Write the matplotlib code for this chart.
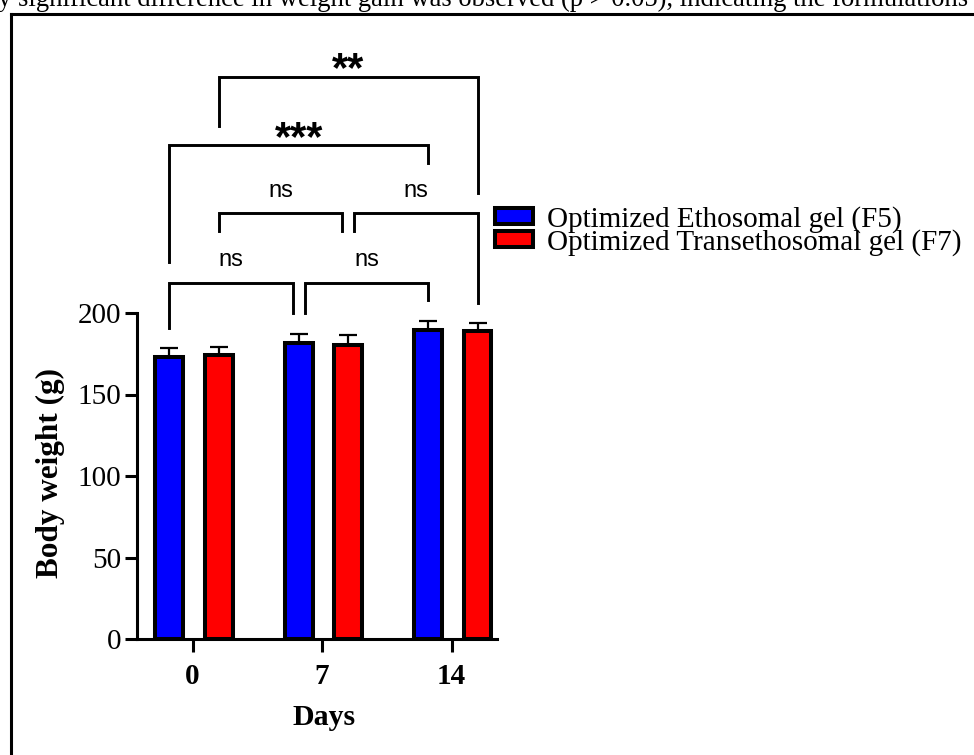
import numpy as np
import matplotlib
matplotlib.use("Agg")
import matplotlib.pyplot as plt
from matplotlib.lines import Line2D

# values
days = ["0", "7", "14"]
etho_mean = [173.0, 181.5, 189.5]
etho_sd = [5.5, 5.5, 5.3]
trans_mean = [174.0, 180.5, 189.0]
trans_sd = [5.0, 6.0, 5.0]
series_names = ["Optimized Ethosomal gel (F5)", "Optimized Transethosomal gel (F7)"]

# comparisons: (series, day a, day b, label)
comparisons = [
    (0, 0, 1, "ns"),
    (0, 1, 2, "ns"),
    (1, 0, 1, "ns"),
    (1, 1, 2, "ns"),
    (0, 0, 2, "***"),
    (1, 0, 2, "**"),
]
# bracket layout (top, left leg end, right leg end) in data units
bracket_levels = [
    (218.6, 190.8, 200.0),
    (218.6, 200.0, 208.0),
    (261.3, 250.0, 250.0),
    (261.3, 250.0, 206.0),
    (303.0, 231.5, 292.0),
    (345.0, 315.0, 273.6),
]

caption = "y significant difference in weight gain was observed (p > 0.05), indicating the formulations"

serif = "Liberation Serif"
sans = "Liberation Sans"

W, H = 974, 755
fig = plt.figure(figsize=(W / 100, H / 100), dpi=100)
ax = fig.add_axes([137 / W, 116 / H, 360 / W, 326 / H])

x = np.arange(len(days))
offs = [-0.18, 0.20]
bw = 0.215
colors = ["#0000ff", "#ff0000"]
means = [etho_mean, trans_mean]
sds = [etho_sd, trans_sd]

handles = []
for i in range(2):
    b = ax.bar(x + offs[i], means[i], bw, color=colors[i], edgecolor="black",
               linewidth=2.9, zorder=3, label=series_names[i])
    ax.errorbar(x + offs[i], means[i], yerr=[np.zeros(3), sds[i]], fmt="none",
                ecolor="black", elinewidth=1.6, capsize=6.5, capthick=1.6, zorder=2)
    handles.append(b)

# significance brackets
ends_used = {}
for (s, a, b, lab) in comparisons:
    ends_used.setdefault((s, a), []).append("L")
    ends_used.setdefault((s, b), []).append("R")

for (s, a, b, lab), (top, la, lb) in zip(comparisons, bracket_levels):
    xa = x[a] + offs[s]
    xb = x[b] + offs[s]
    if lab == "ns":
        if "R" in ends_used[(s, a)]:
            xa += 0.045
        if "L" in ends_used[(s, b)]:
            xb -= 0.045
    ax.add_line(Line2D([xa, xa, xb, xb], [la, top, top, lb], color="black",
                       lw=2.1, clip_on=False, solid_joinstyle="miter"))
    xm = (xa + xb) / 2
    if lab == "ns":
        ax.text(xm, top + 10, lab, ha="center", va="baseline", fontsize=17,
                family=sans, clip_on=False)
    else:
        ax.text(xm, top - 3, lab, ha="center", va="baseline", fontsize=30,
                family=sans, fontweight="bold", clip_on=False)

ax.set_xlim(-0.43, 2.35)
ax.set_ylim(0, 200)
ax.set_yticks([0, 50, 100, 150, 200])
ax.set_xticks(x)
ax.set_xticklabels(days, fontsize=21, fontweight="bold", family=serif)
ax.set_yticklabels(["0", "50", "100", "150", "200"], fontsize=21, family=serif)
for sp in ["top", "right"]:
    ax.spines[sp].set_visible(False)
for sp in ["left", "bottom"]:
    ax.spines[sp].set_linewidth(2.2)
ax.tick_params(axis="y", length=8.6, width=2.2, pad=3)
ax.tick_params(axis="x", length=9.5, width=2.2, pad=8)

ax.set_ylabel("Body weight (g)", fontsize=22.5, fontweight="bold", family=serif)
ax.yaxis.set_label_coords(-0.2, 0.51)
ax.set_xlabel("Days", fontsize=21.5, fontweight="bold", family=serif)
ax.xaxis.set_label_coords(0.52, -0.2)

leg = fig.legend(handles=handles, labels=series_names, loc="upper left",
                 bbox_to_anchor=(495 / W, 1 - 206 / H), frameon=False,
                 prop={"family": serif, "size": 21}, handlelength=1.3,
                 handleheight=0.48, handletextpad=0.48, labelspacing=-0.15,
                 borderpad=0, borderaxespad=0)

# page border and cut-off caption above the figure
fig.add_artist(Line2D([10.5 / W, 10.5 / W], [0, 1 - 13.5 / H], color="black",
                      lw=2.2, transform=fig.transFigure))
fig.add_artist(Line2D([10.5 / W, 1], [1 - 13.5 / H, 1 - 13.5 / H], color="black",
                      lw=2.2, transform=fig.transFigure, solid_capstyle="projecting"))
cap = fig.text(968 / W, 1 - 6.5 / H, caption, ha="right", va="baseline",
               family=serif, fontsize=18)
r = fig.canvas.get_renderer()
wpx = cap.get_window_extent(r).width
cap.set_fontsize(18 * 970 / wpx)

fig.savefig("out.png", dpi=100)
